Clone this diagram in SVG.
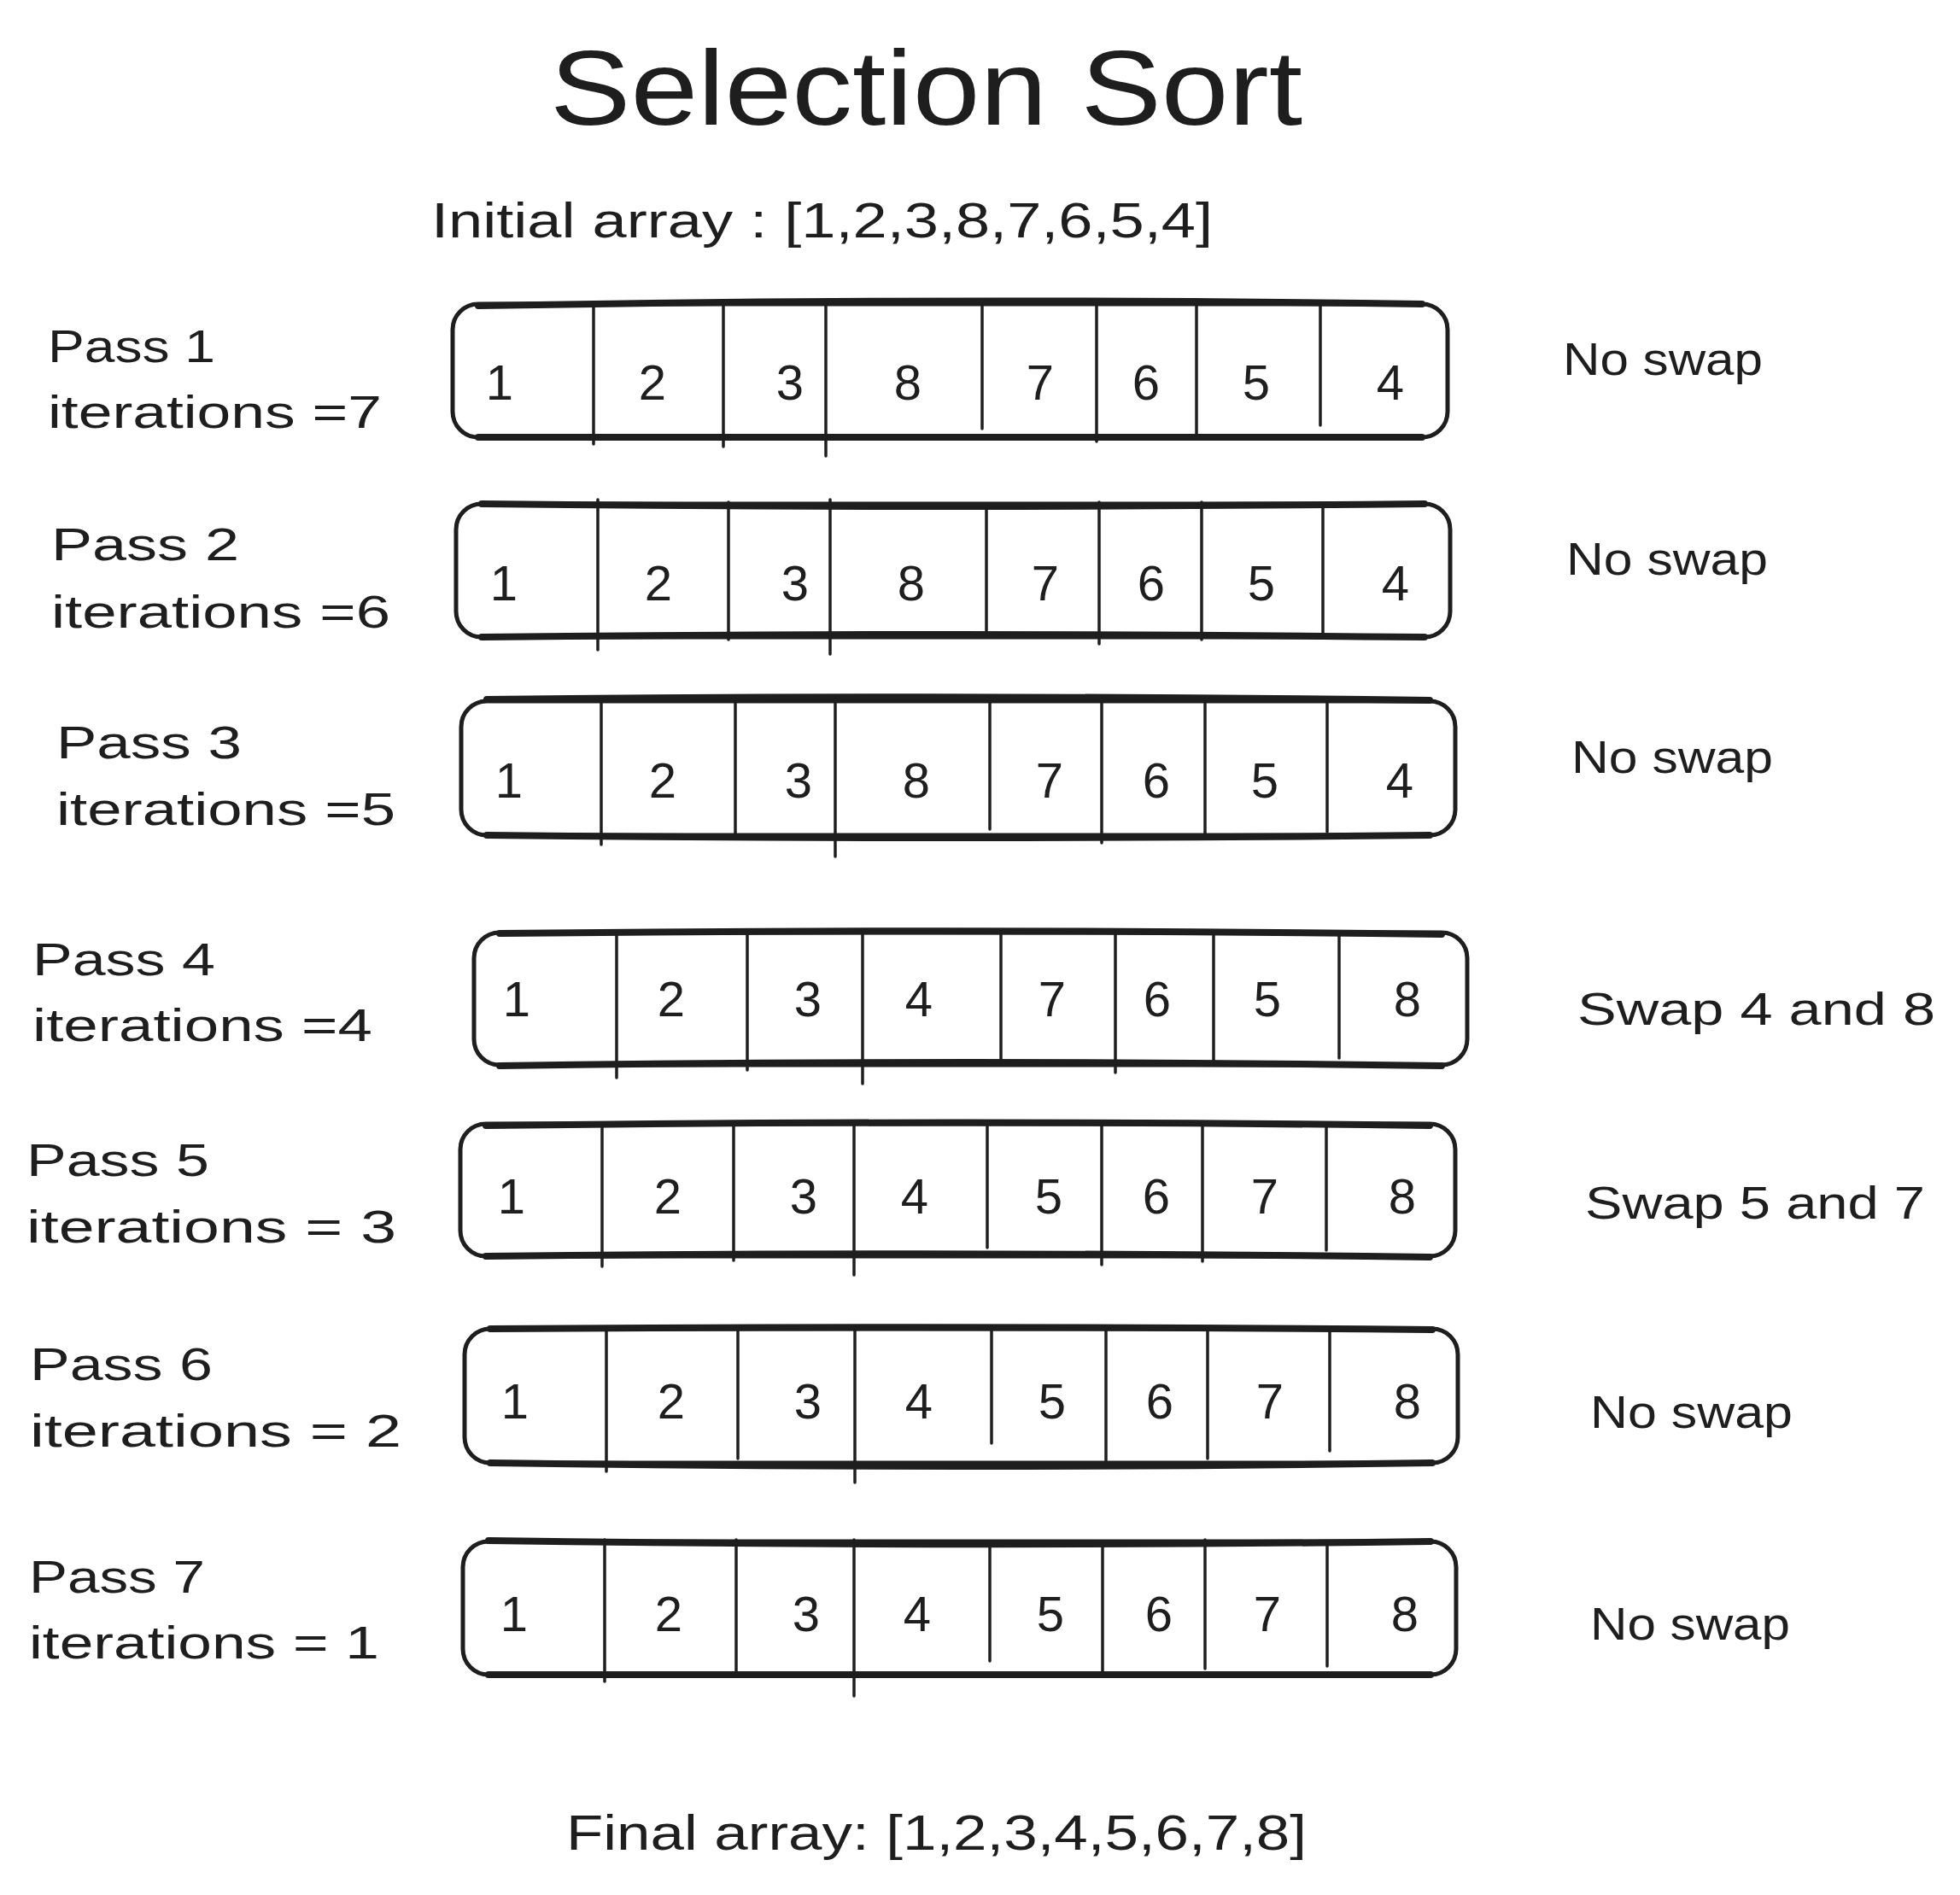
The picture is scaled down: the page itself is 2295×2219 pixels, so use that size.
<svg xmlns="http://www.w3.org/2000/svg" width="2295" height="2219" viewBox="0 0 2295 2219">
<style>
.t{font-family:"Liberation Sans",Arial,sans-serif;fill:#1e1e1e}
.title{font-size:124px}
.hdr{font-size:58px}
.lbl{font-size:54px}
.res{font-size:54px}
.num{font-size:58px;text-anchor:middle}
.box{fill:none;stroke:#1e1e1e;stroke-width:5}
.edge{fill:none;stroke:#1e1e1e;stroke-width:8;stroke-linecap:round}
.dv{stroke:#1e1e1e;stroke-width:3.5;stroke-linecap:round}
</style>
<rect width="2295" height="2219" fill="#ffffff"/>
<g id="title"><text class="t title" x="644" y="146" textLength="881" lengthAdjust="spacingAndGlyphs">Selection Sort</text></g>
<g id="initial"><text class="t hdr" x="505" y="278" textLength="915" lengthAdjust="spacingAndGlyphs">Initial array : [1,2,3,8,7,6,5,4]</text></g>

<g id="pass1">
<text class="t lbl" x="56" y="424" textLength="196" lengthAdjust="spacingAndGlyphs">Pass 1</text>
<text class="t lbl" x="56" y="501" textLength="391" lengthAdjust="spacingAndGlyphs">iterations =7</text>
<rect class="box" x="530" y="356" width="1165" height="156" rx="30"/>
<path class="edge" d="M560 358 Q1110 348 1665 356"/><path class="edge" d="M560 512 Q1110 514 1665 512"/>
<line class="dv" x1="695" y1="358" x2="695" y2="520"/><line class="dv" x1="847" y1="358" x2="847" y2="523"/><line class="dv" x1="967" y1="356" x2="967" y2="534"/><line class="dv" x1="1150" y1="358" x2="1150" y2="502"/><line class="dv" x1="1284" y1="358" x2="1284" y2="517"/><line class="dv" x1="1401" y1="358" x2="1401" y2="512"/><line class="dv" x1="1546" y1="358" x2="1546" y2="498"/>
<text class="t num" x="585" y="468">1</text><text class="t num" x="764" y="468">2</text><text class="t num" x="925" y="468">3</text><text class="t num" x="1063" y="468">8</text><text class="t num" x="1218" y="468">7</text><text class="t num" x="1342" y="468">6</text><text class="t num" x="1471" y="468">5</text><text class="t num" x="1628" y="468">4</text>
<text class="t res" x="1830" y="439" textLength="234" lengthAdjust="spacingAndGlyphs">No swap</text>
</g>

<g id="pass2">
<text class="t lbl" x="60" y="656" textLength="220" lengthAdjust="spacingAndGlyphs">Pass 2</text>
<text class="t lbl" x="60" y="735" textLength="397" lengthAdjust="spacingAndGlyphs">iterations =6</text>
<rect class="box" x="534" y="590" width="1164" height="156" rx="30"/>
<path class="edge" d="M564 590 Q1116 596 1668 590"/><path class="edge" d="M564 746 Q1116 740 1668 746"/>
<line class="dv" x1="700" y1="585" x2="700" y2="761"/><line class="dv" x1="853" y1="588" x2="853" y2="749"/><line class="dv" x1="972" y1="585" x2="972" y2="766"/><line class="dv" x1="1155" y1="590" x2="1155" y2="739"/><line class="dv" x1="1287" y1="588" x2="1287" y2="754"/><line class="dv" x1="1407" y1="588" x2="1407" y2="749"/><line class="dv" x1="1549" y1="590" x2="1549" y2="744"/>
<text class="t num" x="590" y="703">1</text><text class="t num" x="771" y="703">2</text><text class="t num" x="931" y="703">3</text><text class="t num" x="1067" y="703">8</text><text class="t num" x="1224" y="703">7</text><text class="t num" x="1348" y="703">6</text><text class="t num" x="1477" y="703">5</text><text class="t num" x="1634" y="703">4</text>
<text class="t res" x="1834" y="673" textLength="236" lengthAdjust="spacingAndGlyphs">No swap</text>
</g>

<g id="pass3">
<text class="t lbl" x="66" y="888" textLength="217" lengthAdjust="spacingAndGlyphs">Pass 3</text>
<text class="t lbl" x="66" y="966" textLength="397" lengthAdjust="spacingAndGlyphs">iterations =5</text>
<rect class="box" x="540" y="821" width="1164" height="157" rx="30"/>
<path class="edge" d="M570 819 Q1122 813 1674 820"/><path class="edge" d="M570 978 Q1122 984 1674 978"/>
<line class="dv" x1="704" y1="823" x2="704" y2="989"/><line class="dv" x1="861" y1="823" x2="861" y2="978"/><line class="dv" x1="978" y1="815" x2="978" y2="1003"/><line class="dv" x1="1159" y1="823" x2="1159" y2="971"/><line class="dv" x1="1290" y1="823" x2="1290" y2="987"/><line class="dv" x1="1411" y1="823" x2="1411" y2="978"/><line class="dv" x1="1554" y1="823" x2="1554" y2="974"/>
<text class="t num" x="596" y="934">1</text><text class="t num" x="776" y="934">2</text><text class="t num" x="935" y="934">3</text><text class="t num" x="1073" y="934">8</text><text class="t num" x="1229" y="934">7</text><text class="t num" x="1354" y="934">6</text><text class="t num" x="1481" y="934">5</text><text class="t num" x="1639" y="934">4</text>
<text class="t res" x="1840" y="905" textLength="236" lengthAdjust="spacingAndGlyphs">No swap</text>
</g>

<g id="pass4">
<text class="t lbl" x="38" y="1142" textLength="214" lengthAdjust="spacingAndGlyphs">Pass 4</text>
<text class="t lbl" x="38" y="1219" textLength="398" lengthAdjust="spacingAndGlyphs">iterations =4</text>
<rect class="box" x="555" y="1092" width="1163" height="155" rx="30"/>
<path class="edge" d="M585 1093 Q1136 1087 1688 1094"/><path class="edge" d="M585 1248 Q1136 1240 1688 1248"/>
<line class="dv" x1="722" y1="1094" x2="722" y2="1262"/><line class="dv" x1="875" y1="1094" x2="875" y2="1253"/><line class="dv" x1="1010" y1="1090" x2="1010" y2="1269"/><line class="dv" x1="1172" y1="1094" x2="1172" y2="1243"/><line class="dv" x1="1306" y1="1094" x2="1306" y2="1256"/><line class="dv" x1="1421" y1="1094" x2="1421" y2="1247"/><line class="dv" x1="1568" y1="1094" x2="1568" y2="1239"/>
<text class="t num" x="605" y="1190">1</text><text class="t num" x="786" y="1190">2</text><text class="t num" x="946" y="1190">3</text><text class="t num" x="1076" y="1190">4</text><text class="t num" x="1232" y="1190">7</text><text class="t num" x="1355" y="1190">6</text><text class="t num" x="1484" y="1190">5</text><text class="t num" x="1648" y="1190">8</text>
<text class="t res" x="1847" y="1200" textLength="419" lengthAdjust="spacingAndGlyphs">Swap 4 and 8</text>
</g>

<g id="pass5">
<text class="t lbl" x="31" y="1377" textLength="214" lengthAdjust="spacingAndGlyphs">Pass 5</text>
<text class="t lbl" x="31" y="1455" textLength="433" lengthAdjust="spacingAndGlyphs">iterations = 3</text>
<rect class="box" x="539" y="1316" width="1165" height="155" rx="30"/>
<path class="edge" d="M569 1318 Q1122 1311 1674 1318"/><path class="edge" d="M569 1471 Q1122 1465 1674 1472"/>
<line class="dv" x1="705" y1="1318" x2="705" y2="1483"/><line class="dv" x1="859" y1="1318" x2="859" y2="1476"/><line class="dv" x1="1000" y1="1318" x2="1000" y2="1493"/><line class="dv" x1="1156" y1="1318" x2="1156" y2="1461"/><line class="dv" x1="1290" y1="1318" x2="1290" y2="1481"/><line class="dv" x1="1408" y1="1318" x2="1408" y2="1477"/><line class="dv" x1="1553" y1="1318" x2="1553" y2="1464"/>
<text class="t num" x="599" y="1421">1</text><text class="t num" x="782" y="1421">2</text><text class="t num" x="941" y="1421">3</text><text class="t num" x="1071" y="1421">4</text><text class="t num" x="1228" y="1421">5</text><text class="t num" x="1354" y="1421">6</text><text class="t num" x="1481" y="1421">7</text><text class="t num" x="1642" y="1421">8</text>
<text class="t res" x="1856" y="1427" textLength="398" lengthAdjust="spacingAndGlyphs">Swap 5 and 7</text>
</g>

<g id="pass6">
<text class="t lbl" x="35" y="1616" textLength="214" lengthAdjust="spacingAndGlyphs">Pass 6</text>
<text class="t lbl" x="35" y="1694" textLength="435" lengthAdjust="spacingAndGlyphs">iterations = 2</text>
<rect class="box" x="544" y="1556" width="1163" height="157" rx="30"/>
<path class="edge" d="M574 1556 Q1125 1552 1677 1557"/><path class="edge" d="M574 1713 Q1125 1721 1677 1713"/>
<line class="dv" x1="710" y1="1558" x2="710" y2="1723"/><line class="dv" x1="864" y1="1558" x2="864" y2="1708"/><line class="dv" x1="1001" y1="1553" x2="1001" y2="1736"/><line class="dv" x1="1161" y1="1558" x2="1161" y2="1690"/><line class="dv" x1="1295" y1="1558" x2="1295" y2="1710"/><line class="dv" x1="1414" y1="1558" x2="1414" y2="1708"/><line class="dv" x1="1557" y1="1558" x2="1557" y2="1699"/>
<text class="t num" x="603" y="1661">1</text><text class="t num" x="786" y="1661">2</text><text class="t num" x="946" y="1661">3</text><text class="t num" x="1076" y="1661">4</text><text class="t num" x="1232" y="1661">5</text><text class="t num" x="1358" y="1661">6</text><text class="t num" x="1487" y="1661">7</text><text class="t num" x="1648" y="1661">8</text>
<text class="t res" x="1862" y="1672" textLength="237" lengthAdjust="spacingAndGlyphs">No swap</text>
</g>

<g id="pass7">
<text class="t lbl" x="34" y="1865" textLength="206" lengthAdjust="spacingAndGlyphs">Pass 7</text>
<text class="t lbl" x="34" y="1942" textLength="410" lengthAdjust="spacingAndGlyphs">iterations = 1</text>
<rect class="box" x="542" y="1805" width="1163" height="156" rx="30"/>
<path class="edge" d="M572 1804 Q1123 1812 1675 1805"/><path class="edge" d="M572 1961 Q1123 1963 1675 1961"/>
<line class="dv" x1="708" y1="1803" x2="708" y2="1969"/><line class="dv" x1="862" y1="1803" x2="862" y2="1961"/><line class="dv" x1="1000" y1="1803" x2="1000" y2="1986"/><line class="dv" x1="1159" y1="1807" x2="1159" y2="1945"/><line class="dv" x1="1291" y1="1807" x2="1291" y2="1960"/><line class="dv" x1="1411" y1="1803" x2="1411" y2="1954"/><line class="dv" x1="1554" y1="1807" x2="1554" y2="1951"/>
<text class="t num" x="602" y="1910">1</text><text class="t num" x="783" y="1910">2</text><text class="t num" x="944" y="1910">3</text><text class="t num" x="1074" y="1910">4</text><text class="t num" x="1230" y="1910">5</text><text class="t num" x="1357" y="1910">6</text><text class="t num" x="1484" y="1910">7</text><text class="t num" x="1645" y="1910">8</text>
<text class="t res" x="1862" y="1920" textLength="234" lengthAdjust="spacingAndGlyphs">No swap</text>
</g>

<g id="final"><text class="t hdr" x="663" y="2166" textLength="867" lengthAdjust="spacingAndGlyphs">Final array: [1,2,3,4,5,6,7,8]</text></g>
<g id="connectors"/>
</svg>
